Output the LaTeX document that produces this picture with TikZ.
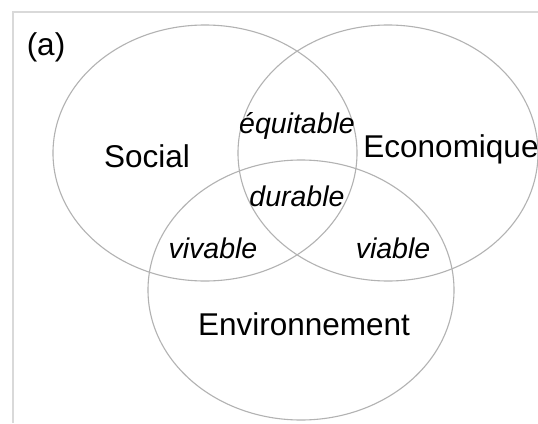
\documentclass[tikz,border=0pt]{standalone}
\usepackage{fontspec}
\setmainfont{Liberation Sans}
\begin{document}
\begin{tikzpicture}[x=1pt, y=-1pt,
	pillar/.style={font=\fontsize{31.5}{33}\selectfont},
	overlap/.style={font=\fontsize{28.5}{30}\selectfont\itshape},
	ring/.style={draw=black!30, line width=1.1pt}]
	\useasboundingbox[fill=white] (0, 0) rectangle (538, 423);
	\draw[black!15, line width=2pt] (13, 423) -- (13, 12) -- (538, 12);

	\draw[ring] (205, 153) ellipse [x radius=152, y radius=128];
	\draw[ring] (388, 153) ellipse [x radius=150, y radius=128];
	\draw[ring] (301, 290) ellipse [x radius=153, y radius=130];

	\node[pillar] (tag) at (46, 47) {(a)};
	\node[pillar] (social) at (147, 156) {Social};
	\node[pillar] (eco) at (451, 149) {Economique};
	\node[pillar] (env) at (304, 324) {Environnement};

	\node[overlap] (equi) at (297, 126) {équitable};
	\node[overlap] (dura) at (297, 196) {durable};
	\node[overlap] (viva) at (213, 248) {vivable};
	\node[overlap] (via) at (393, 248) {viable};
\end{tikzpicture}
\end{document}
